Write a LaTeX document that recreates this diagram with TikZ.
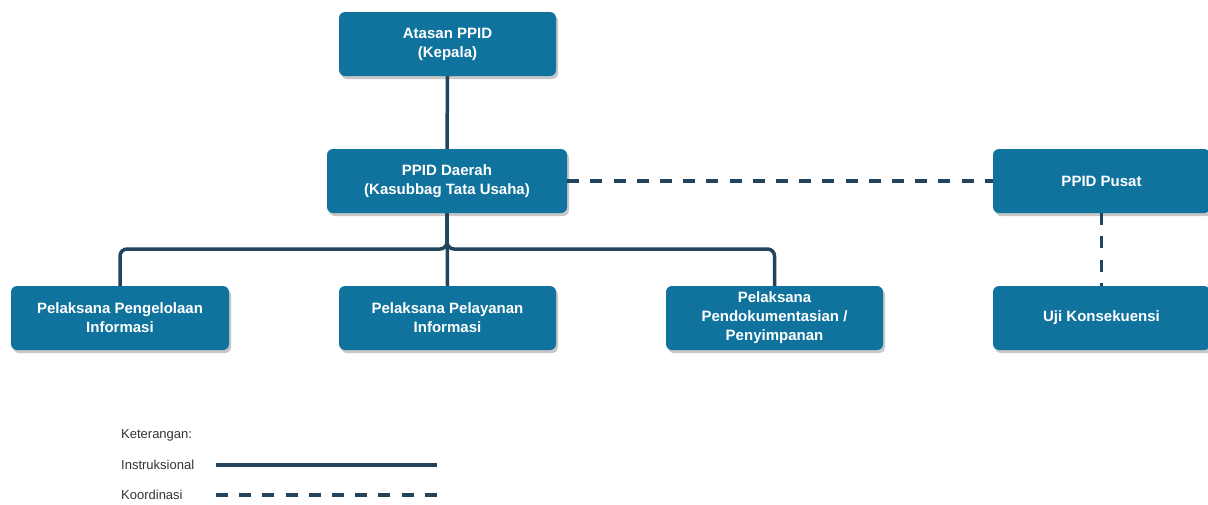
\documentclass[tikz,border=0pt]{standalone}
\usepackage{fontspec}
\setmainfont{Liberation Sans}
\usetikzlibrary{shadows}
\definecolor{boxblue}{HTML}{10739E}
\definecolor{linenavy}{HTML}{23445D}
\begin{document}
\begin{tikzpicture}[x=1pt,y=-1pt,
  unit/.style={fill=boxblue,text=white,rounded corners=6pt,minimum width=217pt,minimum height=64pt,inner sep=2pt,align=center,font=\fontsize{15}{19}\selectfont\bfseries,drop shadow={shadow xshift=2pt,shadow yshift=-3pt,fill=black!22,opacity=1}},
  instr/.style={draw=linenavy,line width=3.5pt},
  koord/.style={draw=linenavy,line width=3.5pt,dash pattern=on 12pt off 11.2pt},
  legend/.style={anchor=west,inner sep=0pt,font=\fontsize{13}{15}\selectfont,text=black!80}]
\path[use as bounding box] (0,0) rectangle (1208,504);
\node[unit] (atasan) at (447.5,44) {Atasan PPID\\(Kepala)};
\node[unit,minimum width=240pt] (daerah) at (447,181) {PPID Daerah\\(Kasubbag Tata Usaha)};
\node[unit] (pusat) at (1101.5,181) {PPID Pusat};
\node[unit,minimum width=218pt] (peng) at (120,318) {Pelaksana Pengelolaan\\Informasi};
\node[unit] (pel) at (447.5,318) {Pelaksana Pelayanan\\Informasi};
\node[unit] (dok) at (774.5,318) {Pelaksana\\Pendokumentasian /\\Penyimpanan};
\node[unit] (uji) at (1101.5,318) {Uji Konsekuensi};
\draw[instr] (atasan.south) -- (daerah.north);
\draw[instr,rounded corners=7pt] (daerah.south) -- (447,249) -| (peng.north);
\draw[instr,rounded corners=7pt] (daerah.south) -- (447,249) -| (dok.north);
\draw[instr] (daerah.south) -- (pel.north);
\draw[koord] (daerah.east) -- (pusat.west);
\draw[koord] (pusat.south) -- (uji.north);
\node[legend] (ket) at (121,435) {Keterangan:};
\node[legend] (ins) at (121,465) {Instruksional};
\node[legend] (koor) at (121,495) {Koordinasi};
\coordinate (insA) at (216,465);
\coordinate (insB) at (437,465);
\coordinate (koorA) at (216,495);
\coordinate (koorB) at (437,495);
\draw[instr] (insA) -- (insB);
\draw[koord] (koorA) -- (koorB);
\end{tikzpicture}
\end{document}
